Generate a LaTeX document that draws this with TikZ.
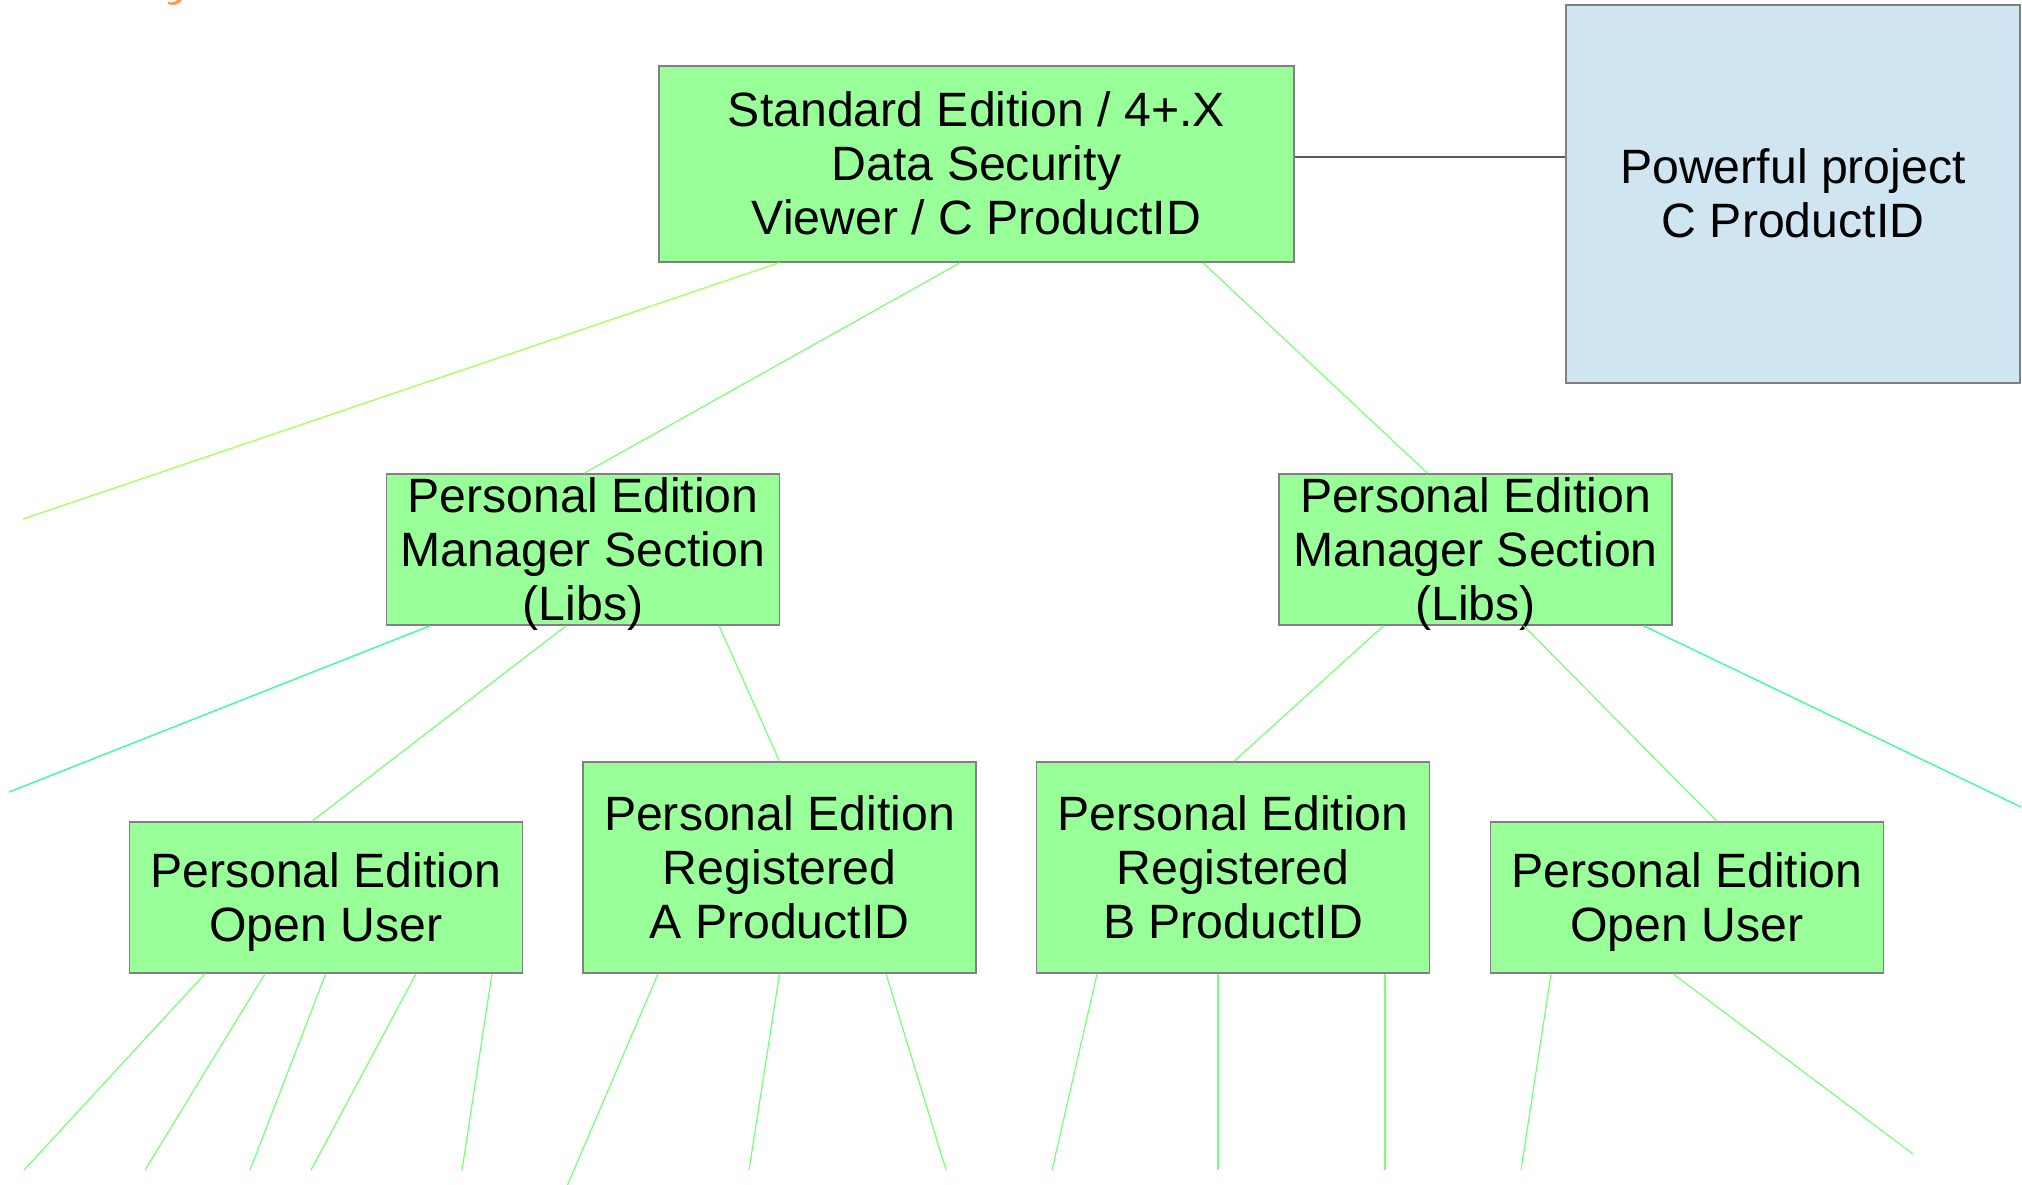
\documentclass[tikz,border=0pt]{standalone}
\usepackage{fontspec}
\newfontfamily\diagfont{Liberation Sans}
\newcommand\mystrut{\rule[-0.212em]{0pt}{1.117em}}
\definecolor{boxgreen}{RGB}{153,255,153}
\definecolor{boxblue}{RGB}{207,230,242}
\definecolor{boxborder}{RGB}{128,128,128}
\definecolor{linelime}{RGB}{170,255,102}
\definecolor{lineaqua}{RGB}{60,255,150}
\definecolor{linepale}{RGB}{120,255,120}
\definecolor{linegray}{RGB}{90,90,90}
\definecolor{fragorange}{RGB}{255,150,80}
\tikzset{
  box/.style={draw=boxborder, line width=0.75pt, fill=boxgreen, inner sep=0pt},
  bluebox/.style={box, fill=boxblue},
  boxtext/.style={inner sep=0pt, align=center,
    font=\diagfont\fontsize{24.1pt}{27pt}\selectfont},
  lnlime/.style={draw=linelime, line width=0.7pt},
  lnaqua/.style={draw=lineaqua, line width=0.7pt},
  lnpale/.style={draw=linepale, line width=0.6pt},
  lngray/.style={draw=linegray, line width=0.9pt},
}
\begin{document}
\begin{tikzpicture}[x=0.5pt,y=-0.5pt]
\useasboundingbox (0,0) rectangle (2022,1184);
\fill[white] (0,0) rectangle (2022,1184);
% clipped fragment of orange text at the top edge
\fill[fragorange] (168,4) .. controls (172,6) and (180,5) .. (182,0) -- (177,0) .. controls (176,2) and (172,3) .. (168,2) -- cycle;

% boxes
\node[box, minimum width=317.5pt, minimum height=98pt] (top) at (976.5,164) {};
\node[bluebox, minimum width=227pt, minimum height=189pt] (blue) at (1793,194) {};
\node[box, minimum width=196.5pt, minimum height=75.5pt] (midL) at (583,549.5) {};
\node[box, minimum width=196.5pt, minimum height=75.5pt] (midR) at (1475.5,549.5) {};
\node[box, minimum width=196.5pt, minimum height=75.5pt] (bl1) at (325.75,897.5) {};
\node[box, minimum width=196.5pt, minimum height=105.5pt] (bl2) at (779.5,867.5) {};
\node[box, minimum width=196.5pt, minimum height=105.5pt] (br1) at (1233,867.5) {};
\node[box, minimum width=196.5pt, minimum height=75.5pt] (br2) at (1687,897.5) {};

% texts
\node[boxtext] (topT) at (top.center)
  {\mystrut Standard Edition / 4+.X\\\mystrut Data Security\\\mystrut Viewer / C ProductID};
\node[boxtext] (blueT) at (blue.center)
  {\mystrut Powerful project\\\mystrut C ProductID};
\node[boxtext] (midLT) at (midL.center)
  {\mystrut Personal Edition\\\mystrut Manager Section\\\mystrut (Libs)};
\node[boxtext] (midRT) at (midR.center)
  {\mystrut Personal Edition\\\mystrut Manager Section\\\mystrut (Libs)};
\node[boxtext] (bl1T) at (bl1.center)
  {\mystrut Personal Edition\\\mystrut Open User};
\node[boxtext] (bl2T) at (bl2.center)
  {\mystrut Personal Edition\\\mystrut Registered\\\mystrut A ProductID};
\node[boxtext] (br1T) at (br1.center)
  {\mystrut Personal Edition\\\mystrut Registered\\\mystrut B ProductID};
\node[boxtext] (br2T) at (br2.center)
  {\mystrut Personal Edition\\\mystrut Open User};

% free ends
\coordinate (fTop) at (23,519);
\coordinate (fMidL) at (9,792);
\coordinate (fMidR) at (2021,807);
\coordinate (fA1) at (24,1170);
\coordinate (fA2) at (145,1170);
\coordinate (fA3) at (250,1170);
\coordinate (fA4) at (311,1170);
\coordinate (fA5) at (462,1170);
\coordinate (fB1) at (567,1186);
\coordinate (fB2) at (749,1170);
\coordinate (fB3) at (946,1170);
\coordinate (fC1) at (1052,1170);
\coordinate (fC2) at (1218,1170);
\coordinate (fC3) at (1385,1170);
\coordinate (fD1) at (1521,1170);
\coordinate (fD2) at (1913,1154);

% connectors
\draw[lngray] ([yshift=3.5pt]top.east) -- ([yshift=3.5pt]top.east -| blue.west);
\draw[lnlime] ([xshift=-98.75pt]top.south) -- (fTop);
\draw[lnpale] ([xshift=-8.25pt]top.south) -- ([xshift=0.5pt]midL.north);
\draw[lnpale] ([xshift=113.25pt]top.south) -- ([xshift=-24pt]midR.north);

\draw[lnaqua] ([xshift=-76.5pt]midL.south) -- (fMidL);
\draw[lnpale] ([xshift=-8.5pt]midL.south) -- ([xshift=-6.9pt]bl1.north);
\draw[lnpale] ([xshift=68pt]midL.south) -- (bl2.north);

\draw[lnpale] ([xshift=-46pt]midR.south) -- ([xshift=0.5pt]br1.north);
\draw[lnpale] ([xshift=24pt]midR.south) -- ([xshift=15pt]br2.north);
\draw[lnaqua] ([xshift=84pt]midR.south) -- (fMidR);

\draw[lnpale] ([xshift=-60.4pt]bl1.south) -- (fA1);
\draw[lnpale] ([xshift=-30.4pt]bl1.south) -- (fA2);
\draw[lnpale] ([xshift=0pt]bl1.south) -- (fA3);
\draw[lnpale] ([xshift=45.1pt]bl1.south) -- (fA4);
\draw[lnpale] ([xshift=83.1pt]bl1.south) -- (fA5);

\draw[lnpale] ([xshift=-60.75pt]bl2.south) -- (fB1);
\draw[lnpale] ([xshift=0pt]bl2.south) -- (fB2);
\draw[lnpale] ([xshift=53.25pt]bl2.south) -- (fB3);

\draw[lnpale] ([xshift=-68pt]br1.south) -- (fC1);
\draw[lnpale] ([xshift=-7.5pt]br1.south) -- (fC2);
\draw[lnpale] ([xshift=76pt]br1.south) -- (fC3);

\draw[lnpale] ([xshift=-68pt]br2.south) -- (fD1);
\draw[lnpale] ([xshift=-7pt]br2.south) -- (fD2);
\end{tikzpicture}
\end{document}
